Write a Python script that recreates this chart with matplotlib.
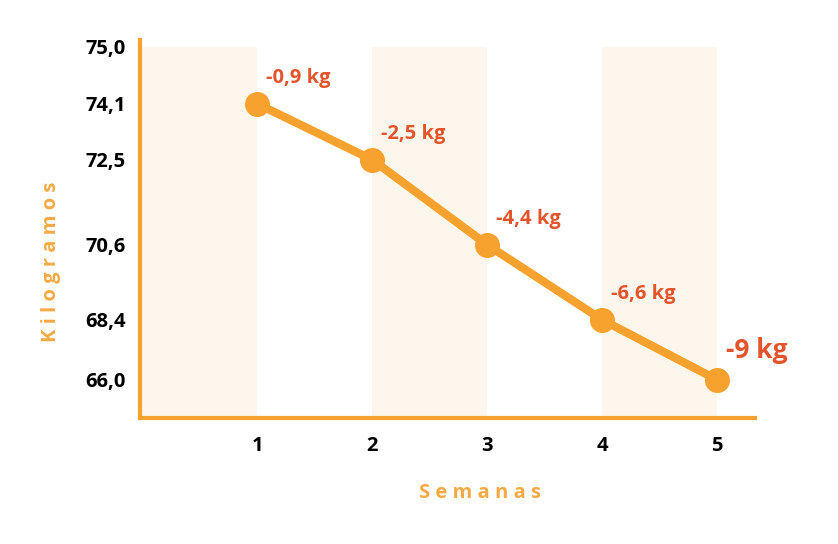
import matplotlib.pyplot as plt
import numpy as np

# data
semanas = [1, 2, 3, 4, 5]
peso = [74.1, 72.5, 70.6, 68.4, 66.0]
perdida = ['-0,9 kg', '-2,5 kg', '-4,4 kg', '-6,6 kg', '-9 kg']
yticks = [66.0, 68.4, 70.6, 72.5, 74.1, 75.0]
ytick_labels = ['66,0', '68,4', '70,6', '72,5', '74,1', '75,0']

# the original y axis is not linear: tick values sit at uneven steps
scale_vals = np.array([60.0, 66.0, 68.4, 70.6, 72.5, 74.1, 75.0, 80.0])
scale_pos = np.array([-112.0, 38, 98, 173, 258, 314, 371, 688])

def fwd(v):
    return np.interp(v, scale_vals, scale_pos)

def inv(p):
    return np.interp(p, scale_pos, scale_vals)

orange = '#F7A22E'
red = '#E2552C'
band = '#FDF6EC'

plt.rcParams['font.family'] = ['Open Sans', 'DejaVu Sans']

fig = plt.figure(figsize=(8.38, 5.44), dpi=100)
ax = fig.add_axes([0.167, 0.232, 0.734, 0.695])
ax.set_yscale('function', functions=(fwd, inv))
ymin, ymax = float(inv(0)), float(inv(378))
ax.set_xlim(-0.02, 5.33)
ax.set_ylim(ymin, ymax)

for x0 in [0, 2, 4]:
    ax.fill_between([x0, x0 + 1], ymin, 75.0, color=band, lw=0, zorder=0)

ax.plot(semanas, peso, color=orange, lw=6, marker='o', ms=17, zorder=3)

for i, (x, y, t) in enumerate(zip(semanas, peso, perdida)):
    big = i == len(semanas) - 1
    ax.annotate(t, (x, y), xytext=(9, 29 if big else 26), textcoords='offset pixels',
                ha='left', va='center', color=red, fontweight='bold',
                fontsize=19 if big else 14.5)

ax.set_xticks(semanas)
ax.set_xticklabels([str(s) for s in semanas])
ax.set_yticks(yticks)
ax.set_yticklabels(ytick_labels)
ax.yaxis.set_minor_locator(plt.NullLocator())
ax.tick_params(length=0, labelsize=14.5, labelcolor='black')
ax.tick_params(axis='x', pad=13)
ax.tick_params(axis='y', pad=10)
for lab in ax.get_xticklabels() + ax.get_yticklabels():
    lab.set_fontweight('bold')

for s in ['top', 'right']:
    ax.spines[s].set_visible(False)
for s in ['left', 'bottom']:
    ax.spines[s].set_color(orange)
    ax.spines[s].set_linewidth(3)

ax.set_xlabel('S e m a n a s', color='#F5AA45', fontsize=14.5, fontweight='bold')
ax.set_ylabel('K i l o g r a m o s', color='#F5AA45', fontsize=14.5, fontweight='bold')
ax.xaxis.set_label_coords(0.553, -0.172)
ax.yaxis.set_label_coords(-0.128, 0.413)

fig.savefig('out.png', dpi=100)
